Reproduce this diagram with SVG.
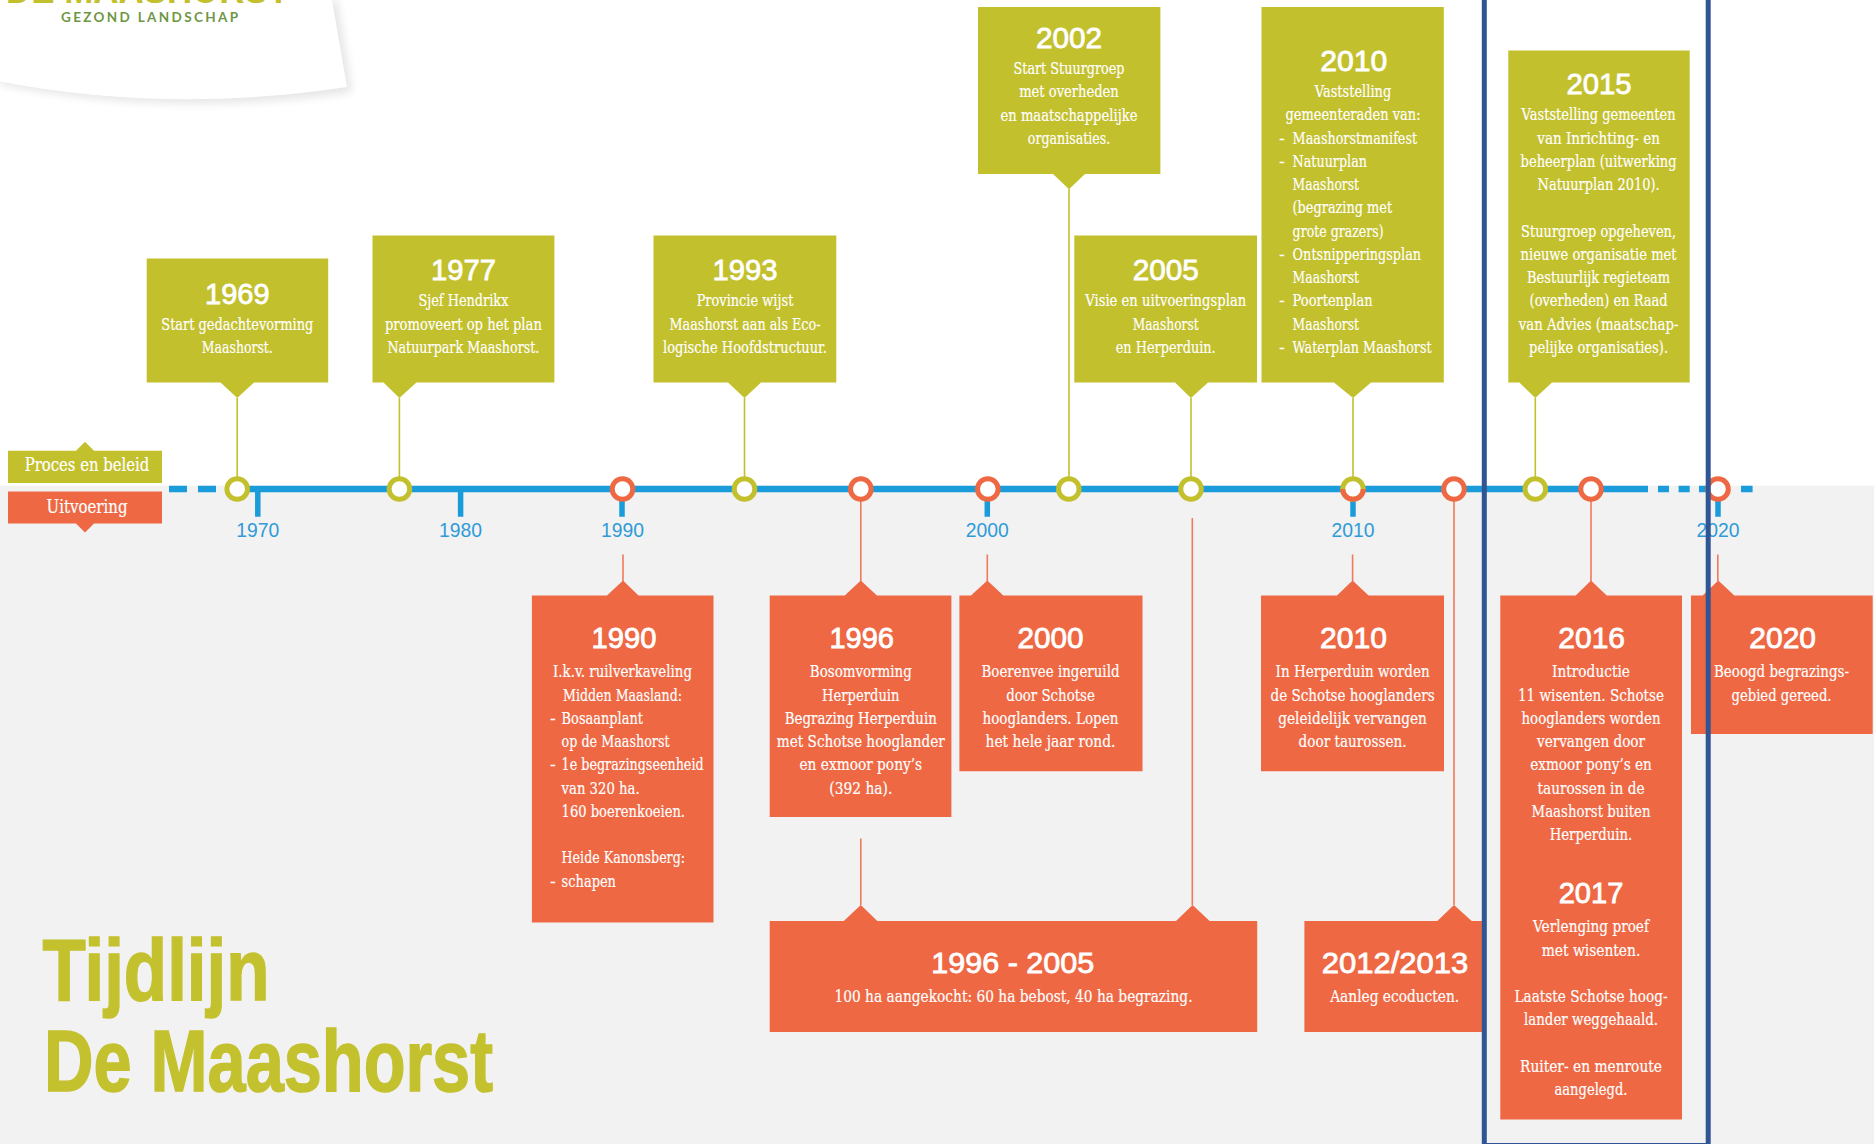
<svg xmlns="http://www.w3.org/2000/svg" width="1874" height="1144" viewBox="0 0 1874 1144">
<style>
.o{fill:#c3c02e}
.r{fill:#ee6844}
text{font-family:"DejaVu Serif",serif;font-size:17px;fill:#fff;stroke:#fff;stroke-width:.2}
.m{text-anchor:middle}
.y{font-family:"Liberation Sans",sans-serif;font-weight:400;font-size:29px;text-anchor:middle;stroke-width:.8}
.t{font-family:"Liberation Sans",sans-serif;font-size:20px;fill:#2f9bd9;stroke:none;text-anchor:middle}
.h{font-family:"Liberation Sans",sans-serif;font-weight:700;font-size:87px;fill:#c4c12f;stroke:#c4c12f;stroke-width:1.5}
.lg{font-size:18px;text-anchor:middle}
.co{stroke:#c3c02e;stroke-width:1.6;fill:none}
.cr{stroke:#f07a5a;stroke-width:1.6;fill:none}
.ax{stroke:#1a9cdb;stroke-width:6.4;fill:none}
.tk{stroke:#1a9cdb;stroke-width:5.5;fill:none}
.do{fill:#fff;stroke:#c3c02e;stroke-width:5}
.dr{fill:#fff;stroke:#ee6844;stroke-width:5}
</style>
<defs>
<filter id="sh" x="-20%" y="-20%" width="140%" height="140%"><feGaussianBlur stdDeviation="5"/></filter>
</defs>
<rect id="background" x="0" y="485.7" width="1874" height="658.3" fill="#f2f2f2"/>
<g id="logo">
<path d="M0 84 Q170 118 352 92 L337 0 L0 0Z" fill="#000" opacity=".1" filter="url(#sh)"/>
<path d="M0 81.4 Q170 114 347 87 L332 0 L0 0Z" fill="#fff"/>
<text x="6" y="3" textLength="283" lengthAdjust="spacingAndGlyphs" style="font-family:'Liberation Sans',sans-serif;font-weight:700;font-size:40px;fill:#c3c02e;stroke:none">DE MAASHORST</text>
<text x="61" y="22" textLength="177" lengthAdjust="spacing" style="font-family:Lato,'Liberation Sans',sans-serif;font-weight:700;font-size:13.5px;fill:#6f9645;stroke:none">GEZOND LANDSCHAP</text>
</g>
<g id="connectors">
<path class="ax" d="M169 489H187M198 489H216M237 489H1648M1658 489H1669M1678.6 489H1689.7M1699 489H1707M1741 489H1752.6"/>
<path class="tk" d="M257.8 489V516.8M460.6 489V516.8M622 489V516.8M987.3 489V516.8M1353 489V516.8M1718 489V516.8"/>
<path class="co" d="M237.2 398V489M399.4 398V489M744.5 398V489M1069 189V489M1191 398V489M1353 398V489M1535.3 398V489"/>
<path class="cr" d="M623 554.6V581M860.8 489V581M860.8 838.6V905M987.3 554.6V581M1192.3 518V905M1352.6 554.6V581M1454 489V905M1591 489V581M1717.8 554.6V581"/>
</g>
<g id="axis-labels">
<text class="t" x="257.8" y="537" textLength="43" lengthAdjust="spacingAndGlyphs">1970</text>
<text class="t" x="460.6" y="537" textLength="43" lengthAdjust="spacingAndGlyphs">1980</text>
<text class="t" x="622.5" y="537" textLength="43" lengthAdjust="spacingAndGlyphs">1990</text>
<text class="t" x="987.3" y="537" textLength="43" lengthAdjust="spacingAndGlyphs">2000</text>
<text class="t" x="1353" y="537" textLength="43" lengthAdjust="spacingAndGlyphs">2010</text>
<text class="t" x="1718" y="537" textLength="43" lengthAdjust="spacingAndGlyphs">2020</text>
</g>
<g id="markers">
<circle class="do" cx="237.2" cy="489" r="10.3"/>
<circle class="do" cx="399.4" cy="489" r="10.3"/>
<circle class="dr" cx="622.5" cy="489" r="10.3"/>
<circle class="do" cx="744.5" cy="489" r="10.3"/>
<circle class="dr" cx="860.8" cy="489" r="10.3"/>
<circle class="dr" cx="987.8" cy="489" r="10.3"/>
<circle class="do" cx="1068.8" cy="489" r="10.3"/>
<circle class="do" cx="1191" cy="489" r="10.3"/>
<circle class="do" cx="1353" cy="489" r="10.3"/>
<path d="M1342.7 489A10.3 10.3 0 0 0 1363.3 489" fill="none" stroke="#ee6844" stroke-width="5"/>
<circle class="dr" cx="1454" cy="489" r="10.3"/>
<circle class="do" cx="1535.3" cy="489" r="10.3"/>
<circle class="dr" cx="1591" cy="489" r="10.3"/>
<circle class="dr" cx="1718" cy="489" r="10.3"/>
</g>
<g id="legend-proces">
<path class="o" d="M8 450.7H76L85 441.8L94 450.7H162V482.9H8Z"/>
<text class="lg" x="87" y="471.4" textLength="124.6" lengthAdjust="spacingAndGlyphs">Proces en beleid</text>
</g>
<g id="legend-uitvoering">
<path class="r" d="M8 491.4H162V523.6H94L85 532.5L76 523.6H8Z"/>
<text class="lg" x="87" y="513" textLength="81" lengthAdjust="spacingAndGlyphs">Uitvoering</text>
</g>
<g id="n1969">
<path class="o" d="M146.7 258.6H328.2V382.5H254L237.2 398L220.6 382.5H146.7Z"/>
<text class="y" x="237.3" y="303.6" textLength="64.5" lengthAdjust="spacingAndGlyphs">1969</text>
<text class="m" x="237.3" y="329.5" textLength="152" lengthAdjust="spacingAndGlyphs">Start gedachtevorming</text>
<text class="m" x="237.3" y="352.8" textLength="71" lengthAdjust="spacingAndGlyphs">Maashorst.</text>
</g>
<g id="n1977">
<path class="o" d="M372.5 235.4H554.4V382.5H416.4L399.4 398L383.5 382.5H372.5Z"/>
<text class="y" x="463.4" y="280.4" textLength="65" lengthAdjust="spacingAndGlyphs">1977</text>
<text class="m" x="463.4" y="306.3" textLength="90" lengthAdjust="spacingAndGlyphs">Sjef Hendrikx</text>
<text class="m" x="463.4" y="329.5" textLength="157" lengthAdjust="spacingAndGlyphs">promoveert op het plan</text>
<text class="m" x="463.4" y="352.8" textLength="152" lengthAdjust="spacingAndGlyphs">Natuurpark Maashorst.</text>
</g>
<g id="n1993">
<path class="o" d="M653.5 235.4H836.3V382.5H761L744.5 398L728 382.5H653.5Z"/>
<text class="y" x="745" y="280.4" textLength="65" lengthAdjust="spacingAndGlyphs">1993</text>
<text class="m" x="745" y="306.3" textLength="96.7" lengthAdjust="spacingAndGlyphs">Provincie wijst</text>
<text class="m" x="745" y="329.5" textLength="151" lengthAdjust="spacingAndGlyphs">Maashorst aan als Eco-</text>
<text class="m" x="745" y="352.8" textLength="164" lengthAdjust="spacingAndGlyphs">logische Hoofdstructuur.</text>
</g>
<g id="n2002">
<path class="o" d="M978 7H1160.4V174H1085L1069 189.3L1053 174H978Z"/>
<text class="y" x="1069" y="48" textLength="66" lengthAdjust="spacingAndGlyphs">2002</text>
<text class="m" x="1069" y="74" textLength="111" lengthAdjust="spacingAndGlyphs">Start Stuurgroep</text>
<text class="m" x="1069" y="97.3" textLength="99.6" lengthAdjust="spacingAndGlyphs">met overheden</text>
<text class="m" x="1069" y="120.5" textLength="137" lengthAdjust="spacingAndGlyphs">en maatschappelijke</text>
<text class="m" x="1069" y="143.8" textLength="82.4" lengthAdjust="spacingAndGlyphs">organisaties.</text>
</g>
<g id="n2005">
<path class="o" d="M1074.3 235.4H1257V382.5H1208L1191 398L1175 382.5H1074.3Z"/>
<text class="y" x="1165.7" y="280.4" textLength="66" lengthAdjust="spacingAndGlyphs">2005</text>
<text class="m" x="1165.7" y="306.3" textLength="161" lengthAdjust="spacingAndGlyphs">Visie en uitvoeringsplan</text>
<text class="m" x="1165.7" y="329.5" textLength="66" lengthAdjust="spacingAndGlyphs">Maashorst</text>
<text class="m" x="1165.7" y="352.8" textLength="100" lengthAdjust="spacingAndGlyphs">en Herperduin.</text>
</g>
<g id="n2010-beleid">
<path class="o" d="M1261.5 7H1443.8V382.5H1371L1353 398L1334 382.5H1261.5Z"/>
<text class="y" x="1353.7" y="71.4" textLength="67" lengthAdjust="spacingAndGlyphs">2010</text>
<text class="m" x="1353" y="97" textLength="76.4" lengthAdjust="spacingAndGlyphs">Vaststelling</text>
<text class="m" x="1353" y="120.3" textLength="135" lengthAdjust="spacingAndGlyphs">gemeenteraden van:</text>
<text x="1279" y="143.5">-</text><text x="1292.6" y="143.5" textLength="124.5" lengthAdjust="spacingAndGlyphs">Maashorstmanifest</text>
<text x="1279" y="166.8">-</text><text x="1292.6" y="166.8" textLength="74.4" lengthAdjust="spacingAndGlyphs">Natuurplan</text>
<text x="1292.6" y="190" textLength="66.5" lengthAdjust="spacingAndGlyphs">Maashorst</text>
<text x="1292.6" y="213.3" textLength="99.5" lengthAdjust="spacingAndGlyphs">(begrazing met</text>
<text x="1292.6" y="236.5" textLength="91" lengthAdjust="spacingAndGlyphs">grote grazers)</text>
<text x="1279" y="259.8">-</text><text x="1292.6" y="259.8" textLength="128.5" lengthAdjust="spacingAndGlyphs">Ontsnipperingsplan</text>
<text x="1292.6" y="283" textLength="66.5" lengthAdjust="spacingAndGlyphs">Maashorst</text>
<text x="1279" y="306.3">-</text><text x="1292.6" y="306.3" textLength="80" lengthAdjust="spacingAndGlyphs">Poortenplan</text>
<text x="1292.6" y="329.5" textLength="66.5" lengthAdjust="spacingAndGlyphs">Maashorst</text>
<text x="1279" y="352.8">-</text><text x="1292.6" y="352.8" textLength="139" lengthAdjust="spacingAndGlyphs">Waterplan Maashorst</text>
</g>
<g id="n2015">
<path class="o" d="M1508.3 50.4H1689.7V382.5H1552L1535.3 398L1519.4 382.5H1508.3Z"/>
<text class="y" x="1599" y="94" textLength="65" lengthAdjust="spacingAndGlyphs">2015</text>
<text class="m" x="1598.6" y="120.3" textLength="154" lengthAdjust="spacingAndGlyphs">Vaststelling gemeenten</text>
<text class="m" x="1598.6" y="143.5" textLength="122.6" lengthAdjust="spacingAndGlyphs">van Inrichting- en</text>
<text class="m" x="1598.6" y="166.8" textLength="156" lengthAdjust="spacingAndGlyphs">beheerplan (uitwerking</text>
<text class="m" x="1598.6" y="190" textLength="122" lengthAdjust="spacingAndGlyphs">Natuurplan 2010).</text>
<text class="m" x="1598.6" y="236.5" textLength="155" lengthAdjust="spacingAndGlyphs">Stuurgroep opgeheven,</text>
<text class="m" x="1598.6" y="259.8" textLength="156" lengthAdjust="spacingAndGlyphs">nieuwe organisatie met</text>
<text class="m" x="1598.6" y="283" textLength="143" lengthAdjust="spacingAndGlyphs">Bestuurlijk regieteam</text>
<text class="m" x="1598.6" y="306.3" textLength="138" lengthAdjust="spacingAndGlyphs">(overheden) en Raad</text>
<text class="m" x="1598.6" y="329.5" textLength="159.6" lengthAdjust="spacingAndGlyphs">van Advies (maatschap-</text>
<text class="m" x="1598.6" y="352.8" textLength="139" lengthAdjust="spacingAndGlyphs">pelijke organisaties).</text>
</g>
<g id="n1990">
<path class="r" d="M531.9 595.4H607L623 580.5L638.5 595.4H713.5V922.4H531.9Z"/>
<text class="y" x="624" y="647.5" textLength="65" lengthAdjust="spacingAndGlyphs">1990</text>
<text class="m" x="622.5" y="677.3" textLength="139" lengthAdjust="spacingAndGlyphs">I.k.v. ruilverkaveling</text>
<text class="m" x="622.5" y="700.5" textLength="119" lengthAdjust="spacingAndGlyphs">Midden Maasland:</text>
<text x="550" y="723.8">-</text><text x="561.6" y="723.8" textLength="81.4" lengthAdjust="spacingAndGlyphs">Bosaanplant</text>
<text x="561.6" y="747" textLength="108" lengthAdjust="spacingAndGlyphs">op de Maashorst</text>
<text x="550" y="770.3">-</text><text x="561.6" y="770.3" textLength="142" lengthAdjust="spacingAndGlyphs">1e begrazingseenheid</text>
<text x="561.6" y="793.5" textLength="78" lengthAdjust="spacingAndGlyphs">van 320 ha.</text>
<text x="561.6" y="816.8" textLength="123.4" lengthAdjust="spacingAndGlyphs">160 boerenkoeien.</text>
<text x="561.6" y="863.3" textLength="123.4" lengthAdjust="spacingAndGlyphs">Heide Kanonsberg:</text>
<text x="550" y="886.5">-</text><text x="561.6" y="886.5" textLength="54.4" lengthAdjust="spacingAndGlyphs">schapen</text>
</g>
<g id="n1996">
<path class="r" d="M769.7 595.4H844.8L860.8 580.5L876.9 595.4H951.4V817H769.7Z"/>
<text class="y" x="861.7" y="647.5" textLength="64.6" lengthAdjust="spacingAndGlyphs">1996</text>
<text class="m" x="860.8" y="677.3" textLength="102" lengthAdjust="spacingAndGlyphs">Bosomvorming</text>
<text class="m" x="860.8" y="700.5" textLength="77.4" lengthAdjust="spacingAndGlyphs">Herperduin</text>
<text class="m" x="860.8" y="723.8" textLength="152" lengthAdjust="spacingAndGlyphs">Begrazing Herperduin</text>
<text class="m" x="860.8" y="747" textLength="168" lengthAdjust="spacingAndGlyphs">met Schotse hooglander</text>
<text class="m" x="860.8" y="770.3" textLength="122.7" lengthAdjust="spacingAndGlyphs">en exmoor pony’s</text>
<text class="m" x="860.8" y="793.5" textLength="63" lengthAdjust="spacingAndGlyphs">(392 ha).</text>
</g>
<g id="n2000">
<path class="r" d="M959.4 595.4H971L987.3 580.5L1003.3 595.4H1142.5V771.2H959.4Z"/>
<text class="y" x="1050.5" y="647.5" textLength="66" lengthAdjust="spacingAndGlyphs">2000</text>
<text class="m" x="1050.5" y="677.3" textLength="138" lengthAdjust="spacingAndGlyphs">Boerenvee ingeruild</text>
<text class="m" x="1050.5" y="700.5" textLength="88.7" lengthAdjust="spacingAndGlyphs">door Schotse</text>
<text class="m" x="1050.5" y="723.8" textLength="136" lengthAdjust="spacingAndGlyphs">hooglanders. Lopen</text>
<text class="m" x="1050.5" y="747" textLength="130" lengthAdjust="spacingAndGlyphs">het hele jaar rond.</text>
</g>
<g id="n2010-uitvoering">
<path class="r" d="M1261 595.4H1337L1352.6 580.5L1368.6 595.4H1444V771.2H1261Z"/>
<text class="y" x="1353.5" y="647.5" textLength="67" lengthAdjust="spacingAndGlyphs">2010</text>
<text class="m" x="1352.6" y="677.3" textLength="154" lengthAdjust="spacingAndGlyphs">In Herperduin worden</text>
<text class="m" x="1352.6" y="700.5" textLength="164" lengthAdjust="spacingAndGlyphs">de Schotse hooglanders</text>
<text class="m" x="1352.6" y="723.8" textLength="148.6" lengthAdjust="spacingAndGlyphs">geleidelijk vervangen</text>
<text class="m" x="1352.6" y="747" textLength="108" lengthAdjust="spacingAndGlyphs">door taurossen.</text>
</g>
<g id="n1996-2005">
<path class="r" d="M769.7 920.9H843.8L860.8 904.9L877.3 920.9H1176L1192.6 904.9L1209.6 920.9H1257.2V1031.9H769.7Z"/>
<text class="y" x="1012.8" y="972.7" textLength="163" lengthAdjust="spacingAndGlyphs">1996 - 2005</text>
<text class="m" x="1013.5" y="1002" textLength="358" lengthAdjust="spacingAndGlyphs">100 ha aangekocht: 60 ha bebost, 40 ha begrazing.</text>
</g>
<g id="n2012-2013">
<path class="r" d="M1304.4 920.9H1437.3L1454 904.9L1471.7 920.9H1484V1031.9H1304.4Z"/>
<text class="y" x="1395" y="972.7" textLength="146.6" lengthAdjust="spacingAndGlyphs">2012/2013</text>
<text class="m" x="1394.7" y="1002" textLength="129" lengthAdjust="spacingAndGlyphs">Aanleg ecoducten.</text>
</g>
<g id="n2016">
<path class="r" d="M1500.3 595.4H1575.7L1591 580.5L1606.7 595.4H1682V1119.4H1500.3Z"/>
<text class="y" x="1591.7" y="647.5" textLength="66.7" lengthAdjust="spacingAndGlyphs">2016</text>
<text class="m" x="1591" y="677.3" textLength="78" lengthAdjust="spacingAndGlyphs">Introductie</text>
<text class="m" x="1591" y="700.5" textLength="146" lengthAdjust="spacingAndGlyphs">11 wisenten. Schotse</text>
<text class="m" x="1591" y="723.8" textLength="139" lengthAdjust="spacingAndGlyphs">hooglanders worden</text>
<text class="m" x="1591" y="747" textLength="108" lengthAdjust="spacingAndGlyphs">vervangen door</text>
<text class="m" x="1591" y="770.3" textLength="121.7" lengthAdjust="spacingAndGlyphs">exmoor pony’s en</text>
<text class="m" x="1591" y="793.5" textLength="107" lengthAdjust="spacingAndGlyphs">taurossen in de</text>
<text class="m" x="1591" y="816.8" textLength="119" lengthAdjust="spacingAndGlyphs">Maashorst buiten</text>
<text class="m" x="1591" y="840" textLength="82.7" lengthAdjust="spacingAndGlyphs">Herperduin.</text>
<text class="y" x="1591" y="903.4" textLength="64.7" lengthAdjust="spacingAndGlyphs">2017</text>
<text class="m" x="1591" y="932.4" textLength="116" lengthAdjust="spacingAndGlyphs">Verlenging proef</text>
<text class="m" x="1591" y="955.6" textLength="98.7" lengthAdjust="spacingAndGlyphs">met wisenten.</text>
<text class="m" x="1591" y="1002" textLength="153" lengthAdjust="spacingAndGlyphs">Laatste Schotse hoog-</text>
<text class="m" x="1591" y="1025.3" textLength="134" lengthAdjust="spacingAndGlyphs">lander weggehaald.</text>
<text class="m" x="1591" y="1071.8" textLength="142" lengthAdjust="spacingAndGlyphs">Ruiter- en menroute</text>
<text class="m" x="1591" y="1095" textLength="73" lengthAdjust="spacingAndGlyphs">aangelegd.</text>
</g>
<g id="n2020">
<path class="r" d="M1691 595.4H1702.7L1718.3 580.5L1734.3 595.4H1872.7V734H1691Z"/>
<text class="y" x="1782.7" y="647.5" textLength="66.7" lengthAdjust="spacingAndGlyphs">2020</text>
<text class="m" x="1781.5" y="677.3" textLength="135" lengthAdjust="spacingAndGlyphs">Beoogd begrazings-</text>
<text class="m" x="1781.5" y="700.5" textLength="100" lengthAdjust="spacingAndGlyphs">gebied gereed.</text>
</g>
<g id="title">
<text class="h" x="42.5" y="999.5" textLength="227" lengthAdjust="spacingAndGlyphs">Tijdlijn</text>
<text class="h" x="44" y="1090.7" textLength="449" lengthAdjust="spacingAndGlyphs">De Maashorst</text>
</g>
<rect id="highlight" x="1484.3" y="-10" width="223.9" height="1155.5" fill="none" stroke="#2f5594" stroke-width="5"/>
</svg>
